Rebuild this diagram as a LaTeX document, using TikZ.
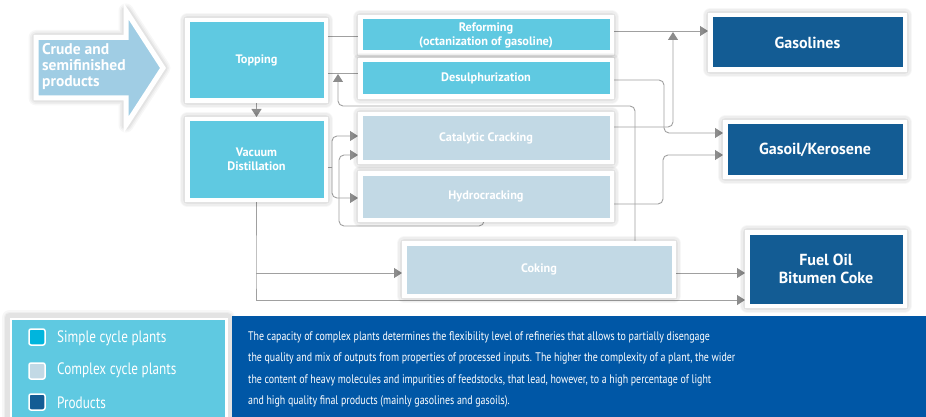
\documentclass[tikz,border=0pt]{standalone}
\usepackage{fontspec}
\setmainfont{PT Sans}
\newfontfamily\cond[FakeStretch=0.8]{PT Sans}
\usetikzlibrary{arrows.meta,backgrounds}
\definecolor{simple}{HTML}{5FC9E1}
\definecolor{complex}{HTML}{C2D9E5}
\definecolor{product}{HTML}{135C94}
\definecolor{textblue}{HTML}{0057A6}
\definecolor{arrowfill}{HTML}{A0CDE4}
\definecolor{legsq}{HTML}{00B5DD}
\definecolor{conn}{HTML}{A0A0A0}
\definecolor{tipcol}{HTML}{8C8C8C}
\tikzset{
  softshadow/.style={
    preaction={draw=black, draw opacity=0.03, line width=15pt, line join=round},
    preaction={draw=black, draw opacity=0.035, line width=12pt, line join=round},
    preaction={draw=black, draw opacity=0.045, line width=9pt, line join=round}},
  box/.style={softshadow, draw=white, line width=4.5pt, inner sep=0pt, outer sep=2.25pt,
    text=white, align=center,
    font=\bfseries\fontsize{12.3}{14}\selectfont},
  simplebox/.style={box, fill=simple},
  complexbox/.style={box, fill=complex},
  productbox/.style={box, fill=product, font=\bfseries\fontsize{16}{18}\selectfont},
  conline/.style={draw=conn, line width=0.9pt, rounded corners=5pt},
  arr/.style={conline, -{Triangle[length=8pt,width=10pt,color=tipcol]}},
  legsquare/.style={draw=white, line width=1.5pt, rounded corners=2pt, minimum width=16pt, minimum height=16pt, inner sep=0pt},
  legtext/.style={anchor=west, inner sep=0pt, text=white, font=\cond\fontsize{16.5}{18}\selectfont}
}
\begin{document}
\begin{tikzpicture}[x=1pt,y=-1pt]
\useasboundingbox (0,0) rectangle (926,417);
\begin{scope}[on background layer]
\fill[white] (0,0) rectangle (926,417);
\end{scope}

% input arrow
\path[softshadow, fill=arrowfill, draw=white, line width=5pt, line join=miter]
  (36,37.5) -- (126,37.5) -- (126,11) -- (163,68) -- (126,125) -- (126,98) -- (36,98) -- cycle;
\node[anchor=north west, inner sep=0pt, align=left, text=white,
  font=\bfseries\fontsize{15.5}{16.3}\selectfont] (crude) at (42,43) {Crude and\\semifinished\\products};

% plants
\node[simplebox, minimum width=138.5, minimum height=80.5] (top) at (256.5,60.5) {Topping};
\node[simplebox, minimum width=138.5, minimum height=80.5] (vac) at (256.5,159.5) {Vacuum\\Distillation};
\node[simplebox, minimum width=251.5, minimum height=35.5] (ref) at (486,35) {Reforming\\(octanization of gasoline)};
\node[simplebox, minimum width=251.5, minimum height=36.5] (des) at (486,78.5) {Desulphurization};
\node[complexbox, minimum width=251.5, minimum height=47.5] (cat) at (486,138) {Catalytic Cracking};
\node[complexbox, minimum width=251.5, minimum height=46.5] (hyd) at (486,196.5) {Hydrocracking};
\node[complexbox, minimum width=269.5, minimum height=52.5] (cok) at (539,269.5) {Coking};

% products
\node[productbox, minimum width=194.5, minimum height=54.5] (gas) at (807.5,42.5) {Gasolines};
\node[productbox, minimum width=179.5, minimum height=54.5] (gso) at (815,149.5) {Gasoil/Kerosene};
\node[productbox, minimum width=157.5, minimum height=73.5] (fuel) at (826,269) {Fuel Oil\\Bitumen Coke};

% helper coordinates
\coordinate (fbc) at (635,106);
\coordinate (fbl) at (338,106);
\coordinate (jv) at (332,167);
\coordinate (hrc) at (339,226);
\coordinate (vb) at (256,300);
\coordinate (vm) at (256,273);

\begin{scope}[on background layer]
  \draw[conline] (top.east |- 0,36) -- (ref.west |- 0,36);
  \draw[conline] (top.east |- 0,73) -- (des.west |- 0,73);
  \draw[arr] (top.south) -- (vac.north);
  \draw[arr] (cok.north -| fbc) -- (fbc) -- (fbl) -- (338,74);
  \draw[arr] (ref.east |- 0,31) -- (gas.west |- 0,31);
  \draw[arr] (cat.east |- 0,127) -- (673,127) -- (673,32);
  \draw[arr] (des.east |- 0,80) -- (664,80) -- (664,133) -- (gso.west |- 0,133);
  \draw[arr] (hyd.east |- 0,204) -- (663,204) -- (663,155) -- (gso.west |- 0,155);
  \draw[conline] (vac.east |- jv) -- (jv);
  \draw[arr] (jv) -- (332,136) -- (cat.west |- 0,136);
  \draw[arr] (jv) -- (332,198) -- (hyd.west |- 0,198);
  \draw[arr] ([xshift=-2pt]hyd.south) -- (484,226) -- (hrc) -- (339,155) -- (cat.west |- 0,155);
  \draw[conline] ([xshift=-0.5pt]vac.south) -- (vm) -- (vb);
  \draw[arr] (vb) -- (fuel.west |- vb);
  \draw[arr] (vm) -- (cok.west |- vm);
  \draw[arr] (cok.east |- vm) -- (fuel.west |- vm);
\end{scope}

% legend
\path[softshadow, fill=white] (9.5,317.5) rectangle (227.5,425);
\fill[simple] (12,320) rectangle (225,417);
\node[legsquare, fill=legsq] (sq1) at (37,337) {};
\node[legsquare, fill=complex] (sq2) at (37,371) {};
\node[legsquare, fill=product] (sq3) at (37,402) {};
\node[legtext] (l1) at (57,338) {Simple cycle plants};
\node[legtext] (l2) at (57,370.5) {Complex cycle plants};
\node[legtext] (l3) at (57,403) {Products};

% text box
\fill[textblue] (232,316) rectangle (926,417);
\node[anchor=north west, inner sep=0pt, align=left, text=white,
  font=\cond\fontsize{12.4}{21.5}\selectfont] (desc) at (248,331)
  {The capacity of complex plants determines the flexibility level of refineries that allows to partially disengage\\
   the quality and mix of outputs from properties of processed inputs. The higher the complexity of a plant, the wider\\
   the content of heavy molecules and impurities of feedstocks, that lead, however, to a high percentage of light\\
   and high quality final products (mainly gasolines and gasoils).};
\end{tikzpicture}
\end{document}
